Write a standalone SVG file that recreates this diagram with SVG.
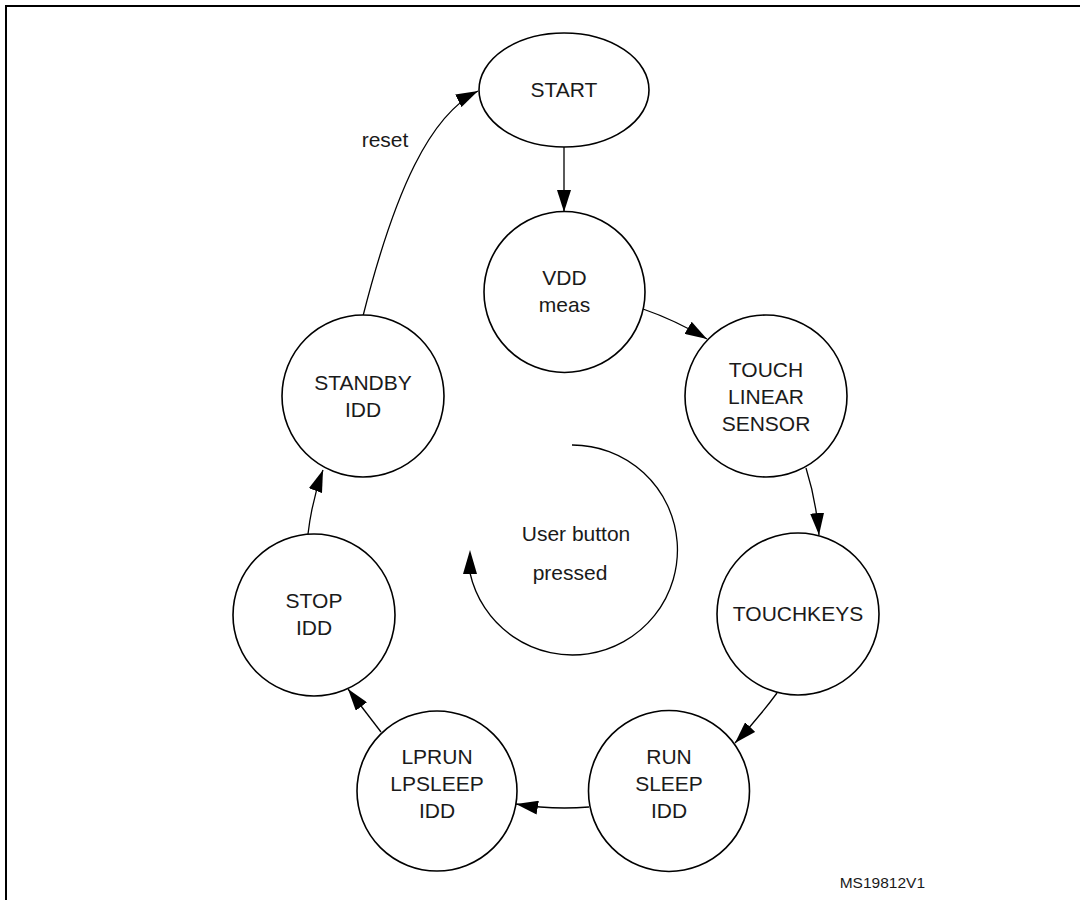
<svg xmlns="http://www.w3.org/2000/svg" width="1080" height="900" viewBox="0 0 1080 900">
<style>
.node{fill:#fff;stroke:#000;stroke-width:1.6}
.lbl{font-family:"Liberation Sans",Arial,sans-serif;font-size:21px;fill:#1a1a1a;text-anchor:middle}
.conn{fill:none;stroke:#000;stroke-width:1.3}
</style>
<defs>
<marker id="ah" markerUnits="userSpaceOnUse" markerWidth="22" markerHeight="14" refX="22" refY="7" orient="auto">
<path d="M0,0 L22,7 L0,14 z" fill="#000"/>
</marker>
</defs>
<rect width="1080" height="900" fill="#fff"/>
<path d="M6,900 L6,6 L1080,6" fill="none" stroke="#000" stroke-width="2"/>
<g id="connectors">
<path class="conn" d="M564,147 L564,212" marker-end="url(#ah)"/>
<path class="conn" d="M643,309 Q675,320 707,339" marker-end="url(#ah)"/>
<path class="conn" d="M806,468 Q816,500 819,535" marker-end="url(#ah)"/>
<path class="conn" d="M777,693 Q757,720 735,743" marker-end="url(#ah)"/>
<path class="conn" d="M589,807 Q552,810 516,804" marker-end="url(#ah)"/>
<path class="conn" d="M381,732 L348,689" marker-end="url(#ah)"/>
<path class="conn" d="M308,534 Q312,500 323,470" marker-end="url(#ah)"/>
<path class="conn" d="M363,316 C395,190 430,115 478,91" marker-end="url(#ah)"/>
<text class="lbl" x="385" y="147">reset</text>
<path class="conn" d="M572,445 A105,105 0 1 1 470,573"/>
<polygon points="470,550 463,574 477,574" fill="#000"/>
<text class="lbl" x="576" y="541">User button</text>
<text class="lbl" x="570" y="580">pressed</text>
</g>
<g id="start">
<ellipse class="node" cx="564" cy="90" rx="85" ry="57"/>
<text class="lbl" x="564" y="97">START</text>
</g>
<g id="vdd">
<circle class="node" cx="564.5" cy="292" r="80.5"/>
<text class="lbl" x="564.5" y="285">VDD</text>
<text class="lbl" x="564.5" y="312">meas</text>
</g>
<g id="touch">
<circle class="node" cx="766" cy="396" r="81"/>
<text class="lbl" x="766" y="377">TOUCH</text>
<text class="lbl" x="766" y="404">LINEAR</text>
<text class="lbl" x="766" y="431">SENSOR</text>
</g>
<g id="touchkeys">
<circle class="node" cx="798" cy="614" r="81"/>
<text class="lbl" x="798" y="621">TOUCHKEYS</text>
</g>
<g id="run">
<circle class="node" cx="669" cy="791" r="80.5"/>
<text class="lbl" x="669" y="764">RUN</text>
<text class="lbl" x="669" y="791">SLEEP</text>
<text class="lbl" x="669" y="818">IDD</text>
</g>
<g id="lprun">
<circle class="node" cx="437" cy="791" r="80"/>
<text class="lbl" x="437" y="764">LPRUN</text>
<text class="lbl" x="437" y="791">LPSLEEP</text>
<text class="lbl" x="437" y="818">IDD</text>
</g>
<g id="stop">
<circle class="node" cx="314" cy="615" r="81"/>
<text class="lbl" x="314" y="608">STOP</text>
<text class="lbl" x="314" y="635">IDD</text>
</g>
<g id="standby">
<circle class="node" cx="363" cy="396" r="81"/>
<text class="lbl" x="363" y="390">STANDBY</text>
<text class="lbl" x="363" y="417">IDD</text>
</g>
<text x="925" y="888" font-family="'Liberation Sans',Arial,sans-serif" font-size="15.5" fill="#1a1a1a" text-anchor="end">MS19812V1</text>
</svg>
